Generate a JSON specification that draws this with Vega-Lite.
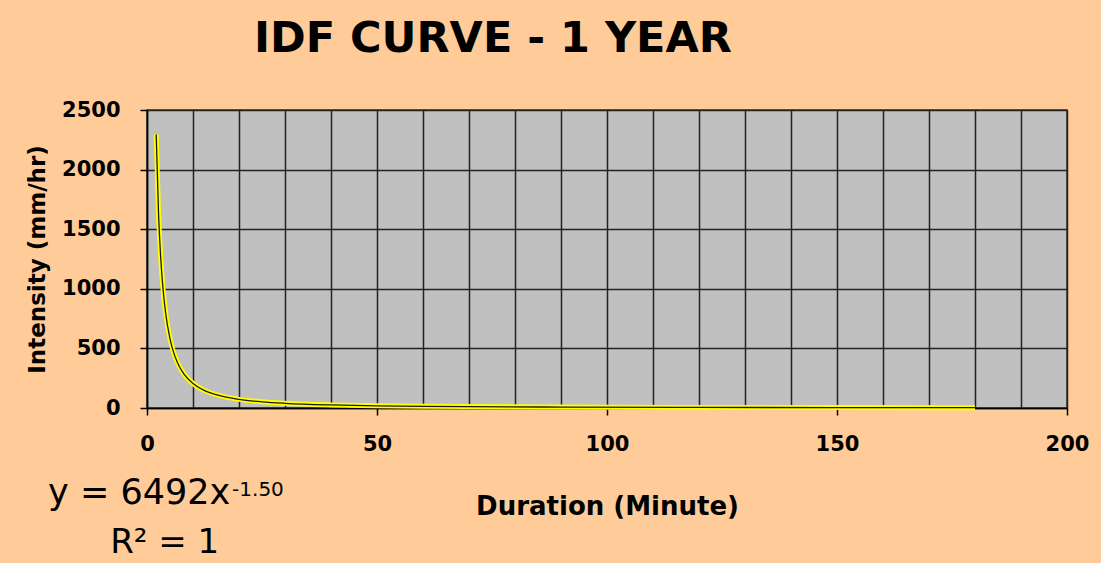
{
  "$schema": "https://vega.github.io/schema/vega-lite/v6.json",
  "width": 920,
  "height": 298,
  "autosize": "none",
  "padding": {"left": 147, "top": 110, "right": 34, "bottom": 155},
  "background": "#FFCC99",
  "title": {
    "text": "IDF CURVE - 1 YEAR",
    "anchor": "start",
    "frame": "group",
    "dx": 107,
    "offset": 38,
    "font": "DejaVu Sans",
    "fontSize": 43,
    "fontWeight": "bold",
    "color": "#000000"
  },
  "config": {
    "view": {"fill": "#C0C0C0", "stroke": "#333333", "strokeWidth": 1.5},
    "font": "DejaVu Sans"
  },
  "datasets": {
    "idf": [
      {"duration": 2, "intensity": 2295.3},
      {"duration": 2.5, "intensity": 1642.3},
      {"duration": 3, "intensity": 1249.4},
      {"duration": 3.5, "intensity": 991.5},
      {"duration": 4, "intensity": 811.5},
      {"duration": 5, "intensity": 580.7},
      {"duration": 6, "intensity": 441.7},
      {"duration": 7, "intensity": 350.5},
      {"duration": 8, "intensity": 286.9},
      {"duration": 10, "intensity": 205.3},
      {"duration": 12, "intensity": 156.2},
      {"duration": 15, "intensity": 111.7},
      {"duration": 20, "intensity": 72.6},
      {"duration": 25, "intensity": 51.9},
      {"duration": 30, "intensity": 39.5},
      {"duration": 40, "intensity": 25.7},
      {"duration": 50, "intensity": 18.4},
      {"duration": 60, "intensity": 14.0},
      {"duration": 90, "intensity": 7.6},
      {"duration": 120, "intensity": 4.9},
      {"duration": 150, "intensity": 3.5},
      {"duration": 180, "intensity": 2.7}
    ],
    "eq1": [{"t": "y = 6492x"}],
    "eq2": [{"t": "-1.50"}],
    "eq3": [{"t": "R² = 1"}]
  },
  "layer": [
    {
      "data": {"name": "idf"},
      "encoding": {
        "x": {
          "field": "duration",
          "type": "quantitative",
          "scale": {"domain": [0, 200], "nice": false},
          "axis": {
            "values": [0, 10, 20, 30, 40, 50, 60, 70, 80, 90, 100, 110, 120, 130, 140, 150, 160, 170, 180, 190, 200],
            "labelExpr": "datum.value % 50 === 0 ? datum.label : ''",
            "labelOverlap": false,
            "labelFlush": false,
            "grid": true,
            "gridColor": "#222222",
            "gridWidth": 1.5,
            "gridOpacity": 1,
            "domainColor": "#000000",
            "domainWidth": 1.5,
            "tickColor": "#000000",
            "tickWidth": 1.5,
            "tickSize": 7,
            "tickOpacity": {"condition": {"test": "datum.value % 50 === 0", "value": 1}, "value": 0},
            "labelFont": "DejaVu Sans",
            "labelFontSize": 21,
            "labelFontWeight": "bold",
            "labelColor": "#000000",
            "labelPadding": 18,
            "title": "Duration (Minute)",
            "titleFont": "DejaVu Sans",
            "titleFontSize": 26,
            "titleFontWeight": "bold",
            "titleColor": "#000000",
            "titlePadding": 39
          }
        },
        "y": {
          "field": "intensity",
          "type": "quantitative",
          "scale": {"domain": [0, 2500], "nice": false},
          "axis": {
            "values": [0, 500, 1000, 1500, 2000, 2500],
            "format": "d",
            "labelFlush": false,
            "grid": true,
            "gridColor": "#222222",
            "gridWidth": 1.5,
            "gridOpacity": 1,
            "domainColor": "#000000",
            "domainWidth": 1.5,
            "tickColor": "#000000",
            "tickWidth": 1.5,
            "tickSize": 7,
            "labelFont": "DejaVu Sans",
            "labelFontSize": 21,
            "labelFontWeight": "bold",
            "labelColor": "#000000",
            "labelPadding": 20,
            "title": "Intensity (mm/hr)",
            "titleFont": "DejaVu Sans",
            "titleFontSize": 23,
            "titleFontWeight": "bold",
            "titleColor": "#000000",
            "titlePadding": 12
          }
        }
      },
      "layer": [
        {"mark": {"type": "line", "color": "#FFFF00", "strokeWidth": 5, "interpolate": "monotone"}},
        {"mark": {"type": "line", "color": "#1a1a1a", "strokeWidth": 1.3, "interpolate": "monotone"}}
      ]
    },
    {
      "data": {"name": "eq1"},
      "mark": {"type": "text", "align": "left", "baseline": "alphabetic", "font": "DejaVu Sans", "fontSize": 35, "color": "#000000", "clip": false},
      "encoding": {
        "x": {"datum": -21.5, "type": "quantitative"},
        "y": {"datum": -805, "type": "quantitative"},
        "text": {"field": "t", "type": "nominal"}
      }
    },
    {
      "data": {"name": "eq2"},
      "mark": {"type": "text", "align": "left", "baseline": "alphabetic", "font": "DejaVu Sans", "fontSize": 20, "color": "#000000", "clip": false},
      "encoding": {
        "x": {"datum": 18.5, "type": "quantitative"},
        "y": {"datum": -735, "type": "quantitative"},
        "text": {"field": "t", "type": "nominal"}
      }
    },
    {
      "data": {"name": "eq3"},
      "mark": {"type": "text", "align": "left", "baseline": "alphabetic", "font": "DejaVu Sans", "fontSize": 34, "color": "#000000", "clip": false},
      "encoding": {
        "x": {"datum": -8, "type": "quantitative"},
        "y": {"datum": -1215, "type": "quantitative"},
        "text": {"field": "t", "type": "nominal"}
      }
    }
  ]
}
